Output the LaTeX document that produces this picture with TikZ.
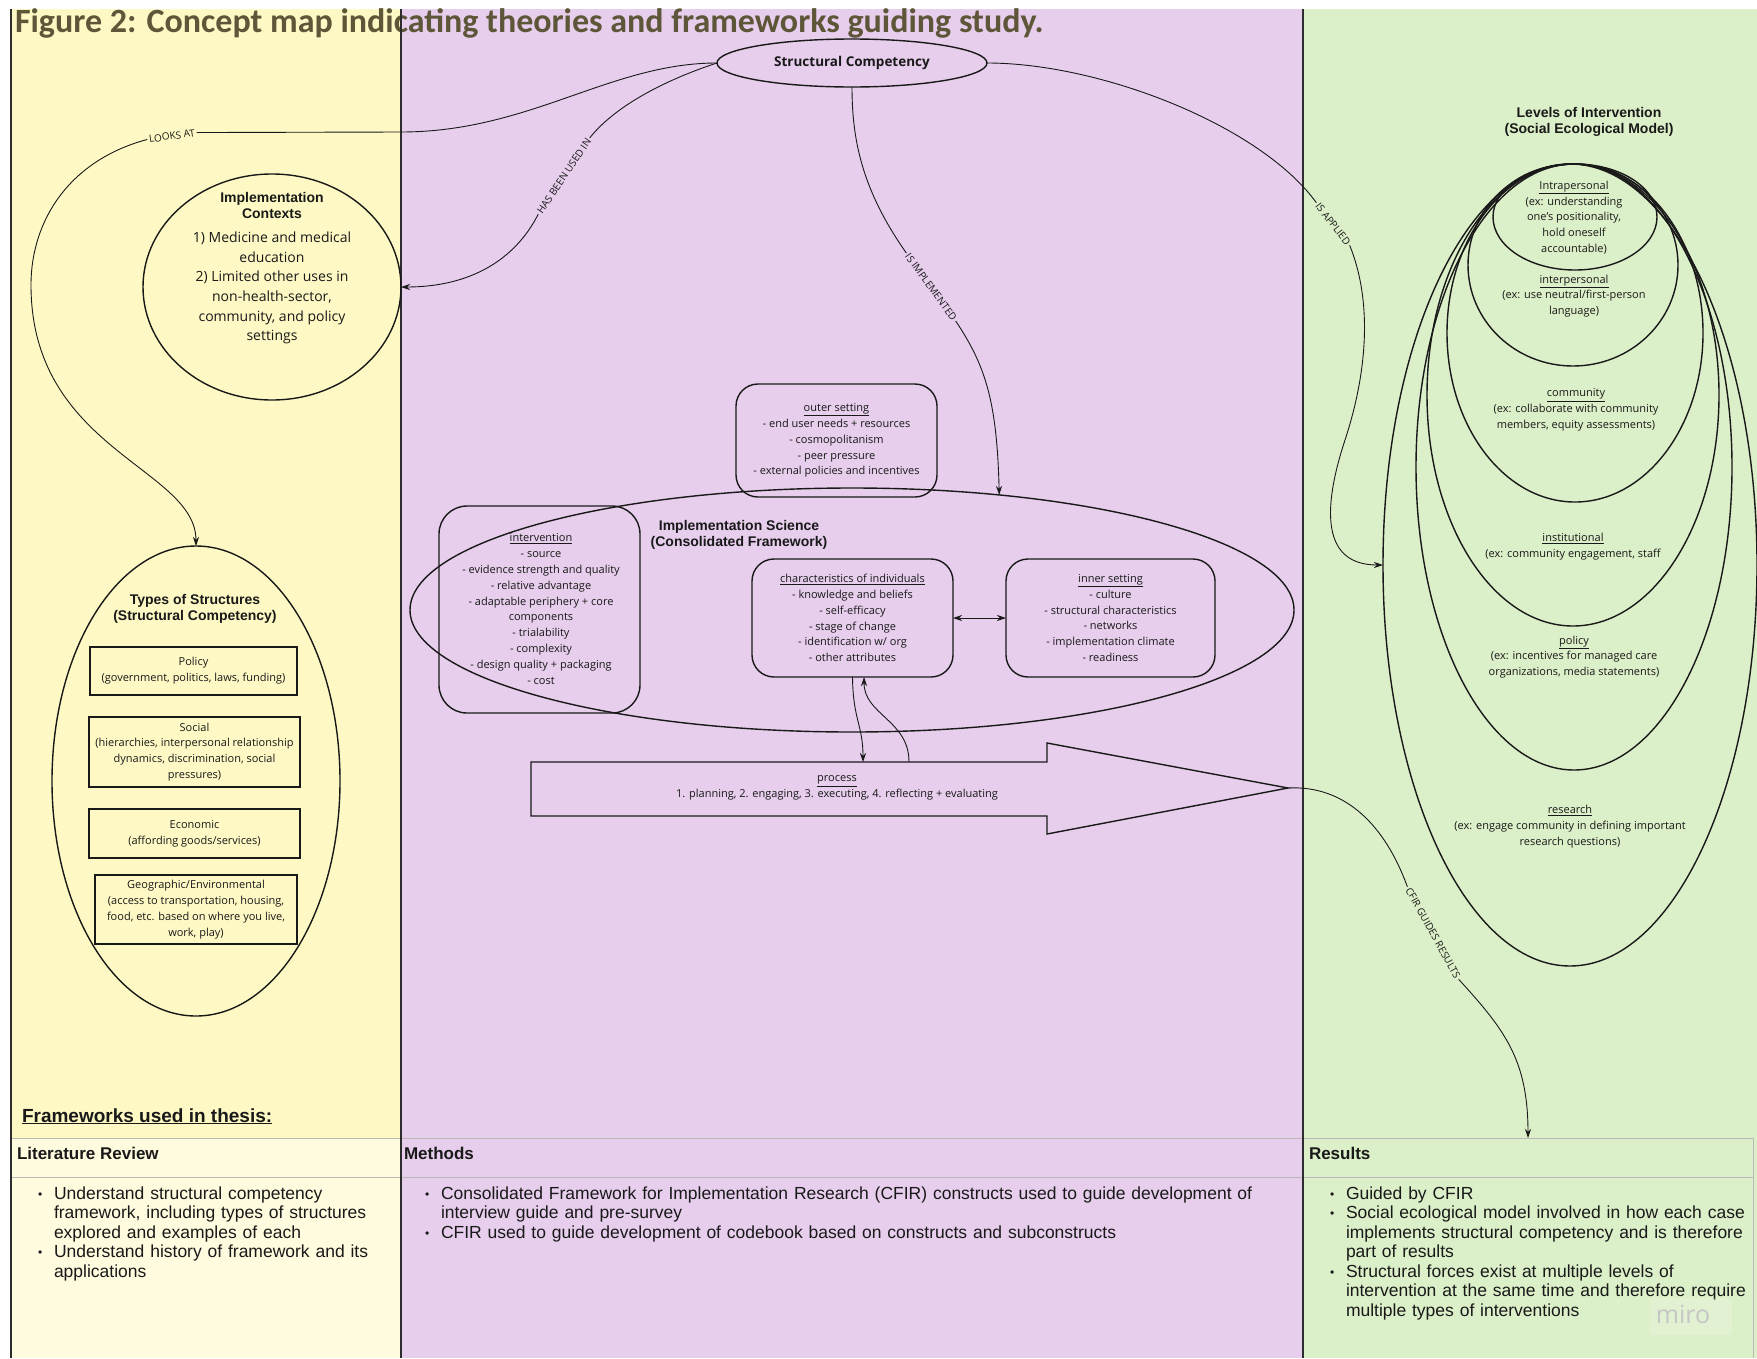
\documentclass[tikz,border=0pt]{standalone}
\usepackage{fontspec}
\setmainfont{Open Sans}
\newfontfamily\arialf{Liberation Sans}
\newfontfamily\calibrif{Carlito}
\usetikzlibrary{shapes.geometric,arrows.meta}
\definecolor{ycol}{RGB}{254,249,196}
\definecolor{ylight}{RGB}{255,251,222}
\definecolor{pcol}{RGB}{230,206,236}
\definecolor{gcol}{RGB}{219,239,200}
\definecolor{titlecol}{RGB}{94,86,56}
\definecolor{ink}{RGB}{25,25,25}
\definecolor{gridcol}{RGB}{185,185,185}
\definecolor{colline}{RGB}{45,45,45}
\newcommand\myS{\fontsize{11}{15.8}\selectfont}
\newcommand\myH{\arialf\bfseries\fontsize{14}{16}\selectfont}
\newcommand\myT{\arialf\fontsize{17.5}{19.5}\selectfont}
\newcommand\myL{\fontsize{10}{12}\selectfont}
\newcommand\mybul{\makebox[16pt][l]{\fontsize{12}{12}\selectfont\raisebox{1pt}{\textbullet}}}
\newcommand\myind{\hspace*{16pt}}
\begin{document}
\begin{tikzpicture}[x=1pt,y=-1pt,
  every node/.style={inner sep=0pt,outer sep=0pt,text=ink},
  shp/.style={draw=ink,line width=1.4pt},
  ell/.style={shp,ellipse},
  rbox/.style={shp,rounded corners=22pt,align=center,font=\myS},
  sbox/.style={shp,align=center,font=\myS},
  txt/.style={align=center,font=\myS},
  hd/.style={align=center,font=\myH},
  conn/.style={draw=ink,line width=0.9pt},
  arr/.style={-{Stealth[length=9pt,width=6pt]}},
  lab/.style={font=\myL,inner sep=2pt},
  colsep/.style={draw=colline,line width=2.6pt},
]
\useasboundingbox (0,0) rectangle (1757,1358);
\fill[white] (0,0) rectangle (1757,1358);
\fill[ycol] (11,9) rectangle (401,1358);
\fill[pcol] (401,9) rectangle (1303,1358);
\fill[gcol] (1303,9) rectangle (1757,1358);
\fill[ylight] (11,1138) rectangle (401,1358);
\draw[gridcol,line width=1pt] (11,1138) -- (1753,1138) (11,1177) -- (1753,1177) (1753,1138) -- (1753,1358);
\node[anchor=base west,font=\calibrif\bfseries\fontsize{34}{40}\selectfont,text=titlecol] (title) at (15,32) {Figure 2: Concept map indicating theories and frameworks guiding study.};
\draw[draw=colline,line width=1.5pt] (11,9) -- (11,1358);
\draw[colsep] (401,9) -- (401,1358);
\draw[colsep] (1303,9) -- (1303,1358);

% top node
\node[ell,minimum width=270pt,minimum height=48pt,font=\bfseries\fontsize{13.5}{16}\selectfont] (sc) at (852,63) {Structural Competency};

% left column
\node[ell,minimum width=258pt,minimum height=226pt] (ic) at (272,287) {};
\node[hd] (ictitle) at (272,205) {Implementation\\Contexts};
\node[align=center,font=\fontsize{14}{19.7}\selectfont] (icbody) at (272,288) {1) Medicine and medical\\education\\2) Limited other uses in\\non-health-sector,\\community, and policy\\settings};

\node[ell,minimum width=288pt,minimum height=470pt] (ts) at (196,781) {};
\node[hd] (tstitle) at (195,609) {Types of Structures\\(Structural Competency)};
\node[sbox,minimum width=207pt,minimum height=48pt] (pol) at (193.5,671) {Policy\\(government, politics, laws, funding)};
\node[sbox,minimum width=211pt,minimum height=70pt] (soc) at (194.5,752) {Social\\(hierarchies, interpersonal relationship\\dynamics, discrimination, social\\pressures)};
\node[sbox,minimum width=211pt,minimum height=49pt] (eco) at (194.5,833.5) {Economic\\(affording goods/services)};
\node[sbox,minimum width=202pt,minimum height=69pt] (geo) at (196,909.5) {Geographic/Environmental\\(access to transportation, housing,\\food, etc. based on where you live,\\work, play)};

% middle column
\node[rbox,minimum width=201pt,minimum height=113pt] (outer) at (836.5,440.5) {\underline{outer setting}\\- end user needs + resources\\- cosmopolitanism\\- peer pressure\\- external policies and incentives};
\node[ell,minimum width=884pt,minimum height=244pt] (isc) at (852,610) {};
\node[hd] (isctitle) at (739,535) {Implementation Science\\(Consolidated Framework)};
\node[shp,rounded corners=28pt,minimum width=201pt,minimum height=207pt] (interv) at (539.5,609.5) {};
\node[txt] (intervtext) at (541,609) {\underline{intervention}\\- source\\- evidence strength and quality\\- relative advantage\\- adaptable periphery + core\\components\\- trialability\\- complexity\\- design quality + packaging\\- cost};
\node[rbox,minimum width=201pt,minimum height=118pt] (chars) at (852.5,618) {\underline{characteristics of individuals}\\- knowledge and beliefs\\- self-efficacy\\- stage of change\\- identification w/ org\\- other attributes};
\node[rbox,minimum width=209pt,minimum height=118pt] (inner) at (1110.5,618) {\underline{inner setting}\\- culture\\- structural characteristics\\- networks\\- implementation climate\\- readiness};

\draw[shp,fill=pcol] (531,762) -- (1047,762) -- (1047,743) -- (1288,788) -- (1047,834) -- (1047,816) -- (531,816) -- cycle;
\coordinate (ptip) at (1288,788);
\coordinate (pdown) at (863,762);
\coordinate (pup) at (909,762);
\node[txt] (process) at (837,788) {\underline{process}\\1. planning, 2. engaging, 3. executing, 4. reflecting + evaluating};

% right column
\node[hd] (levtitle) at (1589,122) {Levels of Intervention\\(Social Ecological Model)};
\node[ell,minimum width=164pt,minimum height=106pt] (e1) at (1575,217) {};
\node[ell,minimum width=210pt,minimum height=202pt] (e2) at (1573,265) {};
\node[ell,minimum width=256pt,minimum height=338pt] (e3) at (1575,333) {};
\node[ell,minimum width=292pt,minimum height=462pt] (e4) at (1573,395) {};
\node[ell,minimum width=316pt,minimum height=606pt] (e5) at (1574,467) {};
\node[ell,minimum width=374pt,minimum height=802pt] (e6) at (1570,565) {};
\node[txt] (t1) at (1574,217.5) {\underline{Intrapersonal}\\(ex: understanding\\one's positionality,\\hold oneself\\accountable)};
\node[txt] (t2) at (1574,296) {\underline{interpersonal}\\(ex: use neutral/first-person\\language)};
\node[txt] (t3) at (1576,410) {\underline{community}\\(ex: collaborate with community\\members, equity assessments)};
\node[txt] (t4) at (1573,547) {\underline{institutional}\\(ex: community engagement, staff};
\node[txt] (t5) at (1574,657) {\underline{policy}\\(ex: incentives for managed care\\organizations, media statements)};
\node[txt] (t6) at (1570,826.5) {\underline{research}\\(ex: engage community in defining important\\research questions)};

% connector labels
\node[lab,rotate=8] (lab1) at (172,136) {LOOKS AT};
\node[lab,rotate=56] (lab2) at (564,176) {HAS BEEN USED IN};
\node[lab,rotate=-54] (lab3) at (931,287) {IS IMPLEMENTED};
\node[lab,rotate=-52] (lab4) at (1333,224) {IS APPLIED};
\node[lab,rotate=-61] (lab5) at (1433,933) {CFIR GUIDES RESULTS};

% connectors
\draw[conn] (sc.west) .. controls (610,63) and (530,132) .. (401,132) -- (lab1.east);
\draw[conn,arr] (lab1.west) .. controls (70,160) and (31,220) .. (31,285) .. controls (31,450) and (196,468) .. (ts.north);
\draw[conn] (sc.west) .. controls (680,75) and (620,100) .. (lab2.east);
\draw[conn,arr] (lab2.west) .. controls (515,260) and (470,287) .. (ic.east);
\draw[conn] (sc.south) .. controls (852,140) and (862,190) .. (lab3.west);
\draw[conn,arr] (lab3.east) .. controls (985,365) and (997,400) .. (isc.38.4);
\draw[conn] (sc.east) .. controls (1100,63) and (1260,125) .. (lab4.west);
\draw[conn,arr] (lab4.east) .. controls (1372,300) and (1368,370) .. (1345,440) .. controls (1322,510) and (1322,565) .. (e6.west);
\coordinate (resarrow) at (1528,1138);
\draw[conn] (ptip) .. controls (1345,785) and (1385,825) .. (lab5.west);
\draw[conn,arr] (lab5.east) .. controls (1505,1030) and (1528,1060) .. (resarrow);
\draw[conn,arr] (chars.south) .. controls (853,720) and (863,725) .. (pdown);
\draw[conn,arr] (pup) .. controls (909,720) and (864,715) .. ([xshift=11.5pt]chars.south);
\draw[conn,{Stealth[length=9pt,width=6pt]}-{Stealth[length=9pt,width=6pt]}] (chars.east) -- (inner.west);

% table
\node[anchor=base west,font=\arialf\bfseries\fontsize{19}{22}\selectfont] (fw) at (22,1122) {\underline{Frameworks used in thesis:}};
\node[anchor=base west,font=\arialf\bfseries\fontsize{17}{20}\selectfont] (hlit) at (17,1159) {Literature Review};
\node[anchor=base west,font=\arialf\bfseries\fontsize{17}{20}\selectfont] (hmeth) at (404,1159) {Methods};
\node[anchor=base west,font=\arialf\bfseries\fontsize{17}{20}\selectfont] (hres) at (1309,1159) {Results};
\node[anchor=base west,font=\myT,text width=500pt,align=left] (blit) at (38,1199) {\mybul Understand structural competency\\\myind framework, including types of structures\\\myind explored and examples of each\\\mybul Understand history of framework and its\\\myind applications};
\node[anchor=base west,font=\myT,text width=900pt,align=left] (bmeth) at (425,1199) {\mybul Consolidated Framework for Implementation Research (CFIR) constructs used to guide development of\\\myind interview guide and pre-survey\\\mybul CFIR used to guide development of codebook based on constructs and subconstructs};
\node[anchor=base west,font=\myT,text width=600pt,align=left] (bres) at (1330,1199) {\mybul Guided by CFIR\\\mybul Social ecological model involved in how each case\\\myind implements structural competency and is therefore\\\myind part of results\\\mybul Structural forces exist at multiple levels of\\\myind intervention at the same time and therefore require\\\myind multiple types of interventions};
\fill[white,opacity=0.18,rounded corners=4pt] (1650,1298) rectangle (1732,1335);
\node[font=\fontsize{25}{25}\selectfont,text=gray!45] (miro) at (1683,1314) {miro};
\end{tikzpicture}
\end{document}
